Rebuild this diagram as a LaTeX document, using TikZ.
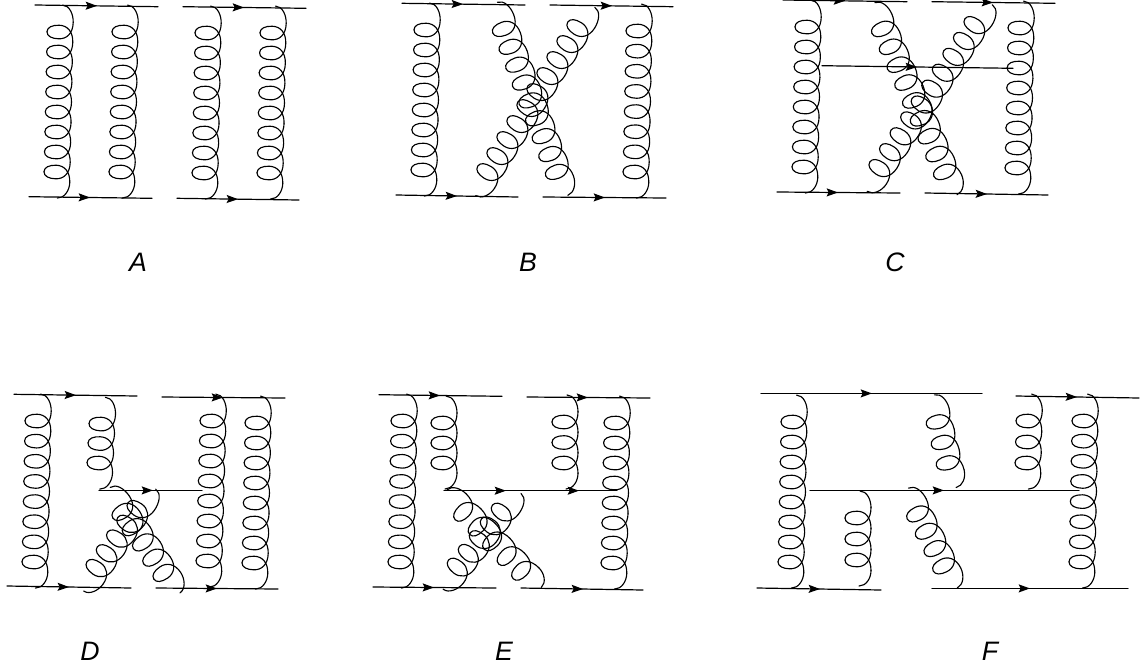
\documentclass[tikz,border=0pt]{standalone}
\usepackage{fontspec}
\setmainfont{Liberation Sans}
\usetikzlibrary{arrows.meta,decorations.markings}
\tikzset{
  wire/.style={line width=0.9pt,line cap=round,black},
  coil/.style={line width=0.85pt,line cap=round,line join=round,black},
  tag/.style={font=\itshape\fontsize{20}{20}\selectfont,anchor=center,inner sep=0pt}
}
% fermion line: x1 y1 x2 y2 arrow-x
\newcommand\fl[5]{%
  \pgfmathsetmacro\flp{(#5-#1)/(#3-#1)}%
  \coordinate (fa) at (#1,#2);\coordinate (fb) at (#3,#4);
  \draw[wire,postaction={decorate},decoration={markings,mark=at position \flp with {\arrow{Stealth[length=8.5pt,width=6pt,inset=1.5pt]}}}] (fa) -- (fb);
}
% gluon: centre of first loop, centre of last loop, number of loops
\newcommand\gl[5]{%
  \pgfmathsetmacro\glang{atan2(#3-#1,#4-#2)}%
  \pgfmathsetmacro\glp{veclen(#3-#1,#4-#2)/(#5-1)}%
  \pgfmathtruncatemacro\gla{#5-1}%
  \pgfmathtruncatemacro\glb{#5-2}%
  \begin{scope}[shift={(#1,#2)},rotate=\glang]
    \draw[coil] (4,-27) .. controls (11,-27) and (15,-18) .. (15,-\glp/2);
    \foreach \k in {-1,...,\glb}{
      \draw[coil] (15,\k*\glp+\glp/2) .. controls (15,\k*\glp+\glp+1) and (9,\k*\glp+\glp+6.8) .. (1,\k*\glp+\glp+6.8)
        .. controls (-6,\k*\glp+\glp+6.8) and (-11,\k*\glp+\glp+4.5) .. (-11,\k*\glp+\glp);
    }
    \foreach \k in {0,...,\gla}{
      \draw[coil] (-11,\k*\glp) .. controls (-11,\k*\glp-4.5) and (-6,\k*\glp-6.8) .. (1,\k*\glp-6.8)
        .. controls (9,\k*\glp-6.8) and (15,\k*\glp-1) .. (15,\k*\glp+\glp/2);
    }
    \draw[coil] (15,\gla*\glp+\glp/2) .. controls (15,\gla*\glp+\glp/2+8) and (10,\gla*\glp+26) .. (3,\gla*\glp+26);
  \end{scope}
}
\begin{document}
\begin{tikzpicture}[x=0.75pt,y=-0.75pt]
\useasboundingbox (0,0) rectangle (1141,668);
% A
\fl{35}{5}{158}{6.7}{97}
\fl{29}{196.7}{152}{198.3}{90}
\fl{183}{6.7}{306}{8.3}{244}
\fl{177}{198.3}{299}{200}{238}
\gl{58}{32}{55}{172}{8}
\gl{123}{32}{120}{172}{8}
\gl{206}{33}{203}{173}{8}
\gl{271}{33}{268}{173}{8}
\node[tag] (la) at (138,262) {A};
% B
\fl{402}{3.3}{525}{5}{463}
\fl{396}{195}{518}{197}{457}
\fl{550}{5}{673}{6.7}{612}
\fl{543}{197}{666}{198}{605}
\gl{425}{30}{422}{170}{8}
\gl{637}{31}{634}{172}{8}
\gl{503}{29}{556}{172}{9}
\gl{577}{28}{487}{172}{10}
\node[tag] (lb) at (528,262) {B};
% C
\fl{783}{0}{907}{1.7}{845}
\fl{777}{192}{900}{193}{838}
\fl{932}{1.7}{1055}{3.3}{993}
\fl{925}{193}{1048}{195}{987}
\fl{822}{65.7}{1013}{68.3}{917}
\gl{806}{27}{803}{167}{8}
\gl{1019}{28}{1016}{168}{8}
\gl{882}{29}{944}{172}{9}
\gl{974}{25}{879}{168}{10}
\node[tag] (lc) at (895,262) {C};
% D
\fl{14}{394.3}{137}{396}{76}
\fl{7}{586}{131}{588}{69}
\fl{99}{490.4}{202}{490.4}{153}
\fl{162}{397}{285}{398}{223}
\fl{156}{588}{278}{589}{217}
\gl{36}{421}{33}{562}{8}
\gl{100}{424}{98}{463}{3}
\gl{211}{421}{207}{561}{8}
\gl{256}{423}{253}{563}{8}
\gl{122}{512}{163}{573}{5}
\gl{137}{509}{96}{568}{5}
\node[tag] (ld) at (90,651) {D};
% E
\fl{379}{394.7}{502}{396.3}{440}
\fl{373}{587}{496}{588}{434}
\fl{444}{490.7}{560}{490.7}{506}
\fl{560}{490.7}{617}{490.7}{579}
\fl{527}{397}{650}{398}{588}
\fl{521}{588}{643}{590}{583}
\gl{402}{421}{399}{562}{8}
\gl{442}{423}{442}{463}{3}
\gl{563}{422}{563}{463}{3}
\gl{615}{423}{612}{563}{8}
\gl{463}{512}{521}{571}{5}
\gl{501}{512}{457}{567}{5}
\node[tag] (le) at (504,651) {E};
% F
\fl{761}{393.4}{982}{393.4}{872}
\fl{757}{588}{881}{590}{820}
\fl{810}{490.4}{1079}{490.4}{944}
\fl{1016}{396}{1139}{398}{1077}
\fl{932}{588.4}{1128}{588.4}{1030}
\gl{792}{422}{789}{562}{8}
\gl{937}{422}{947}{463}{3}
\gl{1027}{421}{1026}{463}{3}
\gl{1083}{421}{1080}{562}{8}
\gl{856}{518}{856}{560}{3}
\gl{917}{514}{943}{566}{4}
\node[tag] (lf) at (990,651) {F};
\end{tikzpicture}
\end{document}
